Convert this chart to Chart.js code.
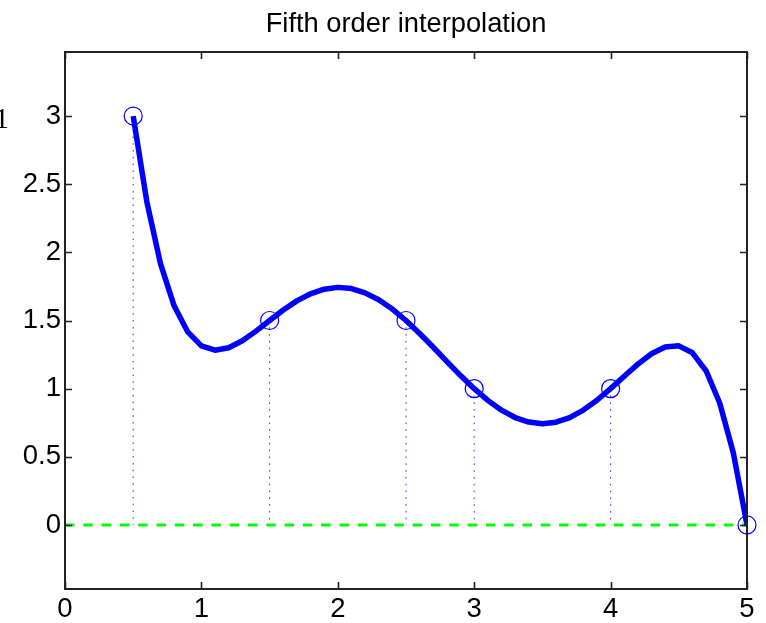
<!DOCTYPE html>
<html>
<head>
<meta charset="utf-8">
<script src="https://cdn.jsdelivr.net/npm/chart.js@4.4.1/dist/chart.umd.min.js"></script>
<style>
  html, body { margin: 0; padding: 0; background: #ffffff; }
  #wrap { width: 766px; height: 623px; }
</style>
</head>
<body>
<div id="wrap"><canvas id="c" width="766" height="623"></canvas></div>
<script>
// ---- data ----
const titleText = "Fifth order interpolation";
const curveX = [0.5,0.6,0.7,0.8,0.9,1.0,1.1,1.2,1.3,1.4,1.5,1.6,1.7,1.8,1.9,2.0,2.1,2.2,2.3,2.4,2.5,2.6,2.7,2.8,2.9,3.0,3.1,3.2,3.3,3.4,3.5,3.6,3.7,3.8,3.9,4.0,4.1,4.2,4.3,4.4,4.5,4.6,4.7,4.8,4.9,5.0];
const curveY = [3.000,2.371,1.917,1.608,1.416,1.314,1.282,1.300,1.351,1.422,1.500,1.577,1.644,1.696,1.730,1.743,1.734,1.703,1.652,1.584,1.500,1.405,1.304,1.199,1.096,1.000,0.914,0.842,0.788,0.755,0.743,0.754,0.788,0.843,0.915,1.000,1.091,1.180,1.256,1.306,1.314,1.263,1.131,0.895,0.528,0.000];
const knotX = [0.5, 1.5, 2.5, 3, 4, 5];
const knotY = [3, 1.5, 1.5, 1, 1, 0];
const baselineX = [0, 5];
const baselineY = [0, 0];
const xTicks = [0, 1, 2, 3, 4, 5];
const xTickLabels = ["0", "1", "2", "3", "4", "5"];
const yTicks = [0, 0.5, 1, 1.5, 2, 2.5, 3];
const yTickLabels = ["0", "0.5", "1", "1.5", "2", "2.5", "3"];
const sideLabel = "1";

// ---- build library structures ----
const curvePts = curveX.map((x, i) => ({ x: x, y: curveY[i] }));
const knotPts = knotX.map((x, i) => ({ x: x, y: knotY[i] }));
const basePts = baselineX.map((x, i) => ({ x: x, y: baselineY[i] }));
const stemPts = [];
knotX.forEach((x, i) => {
  stemPts.push({ x: x, y: knotY[i] });
  stemPts.push({ x: x, y: 0 });
  stemPts.push({ x: x, y: null });
});

const FONT = "'Liberation Sans', Arial, Helvetica, sans-serif";

const framePlugin = {
  id: 'frame',
  afterDatasetsDraw(chart) {
    const { ctx, chartArea: a, scales } = chart;
    ctx.save();
    ctx.strokeStyle = '#222222';
    ctx.lineWidth = 1.6;
    const L = 7;
    ctx.beginPath();
    xTicks.forEach(v => {
      const px = Math.round(scales.x.getPixelForValue(v)) + 0.5;
      ctx.moveTo(px, a.bottom); ctx.lineTo(px, a.bottom - L);
      ctx.moveTo(px, a.top); ctx.lineTo(px, a.top + L);
    });
    yTicks.forEach(v => {
      const py = Math.round(scales.y.getPixelForValue(v)) + 0.5;
      ctx.moveTo(a.left, py); ctx.lineTo(a.left + L, py);
      ctx.moveTo(a.right, py); ctx.lineTo(a.right - L, py);
    });
    ctx.stroke();
    ctx.lineWidth = 2;
    ctx.strokeRect(a.left, a.top, a.right - a.left, a.bottom - a.top);
    // title centred over the plot area
    ctx.fillStyle = '#000';
    ctx.font = "27.3px " + FONT;
    ctx.textAlign = 'center';
    ctx.textBaseline = 'alphabetic';
    ctx.fillText(titleText, (a.left + a.right) / 2, 31.7);
    // clipped glyph at the far left
    ctx.font = "29px 'Liberation Serif', 'Times New Roman', serif";
    ctx.textAlign = 'right';
    ctx.fillText(sideLabel, 9, 128);
    ctx.restore();
  }
};

new Chart(document.getElementById('c'), {
  type: 'scatter',
  data: {
    datasets: [
      {
        data: stemPts, showLine: true, spanGaps: false,
        borderColor: 'rgba(0,0,255,0.8)', borderWidth: 1, borderDash: [1.6, 5.2],
        pointRadius: 0, order: 4
      },
      {
        data: basePts, showLine: true,
        borderColor: '#00ff00', borderWidth: 3, borderDash: [9.5, 8.8],
        pointRadius: 0, order: 3
      },
      {
        data: curvePts, showLine: true, tension: 0,
        borderColor: '#0000ff', borderWidth: 5.5, borderJoinStyle: 'round',
        pointRadius: 0, order: 2
      },
      {
        data: knotPts, showLine: false,
        pointRadius: 9, pointBorderWidth: 1.2,
        pointBorderColor: '#0000ff', pointBackgroundColor: 'rgba(0,0,0,0)',
        clip: false, order: 1
      }
    ]
  },
  options: {
    responsive: false,
    animation: false,
    devicePixelRatio: 1,
    layout: { padding: { left: 0, right: 19, top: 52, bottom: 0 } },
    plugins: {
      legend: { display: false },
      tooltip: { enabled: false },
      title: { display: false }
    },
    scales: {
      x: {
        type: 'linear', min: 0, max: 5,
        grid: { display: false, drawTicks: false },
        border: { display: false },
        afterBuildTicks: s => { s.ticks = xTicks.map(v => ({ value: v })); },
        afterFit: s => { s.height = 34; },
        ticks: {
          color: '#000', padding: 4, maxRotation: 0, autoSkip: false,
          font: { family: FONT, size: 27.5 },
          callback: (v) => xTickLabels[xTicks.indexOf(v)]
        }
      },
      y: {
        type: 'linear', min: -0.47, max: 3.47,
        grid: { display: false, drawTicks: false },
        border: { display: false },
        afterBuildTicks: s => { s.ticks = yTicks.map(v => ({ value: v })); },
        afterFit: s => { s.width = 65; },
        ticks: {
          color: '#000', padding: 4, autoSkip: false,
          font: { family: FONT, size: 27.5 },
          callback: (v) => yTickLabels[yTicks.indexOf(v)]
        }
      }
    }
  },
  plugins: [framePlugin]
});
</script>
</body>
</html>
